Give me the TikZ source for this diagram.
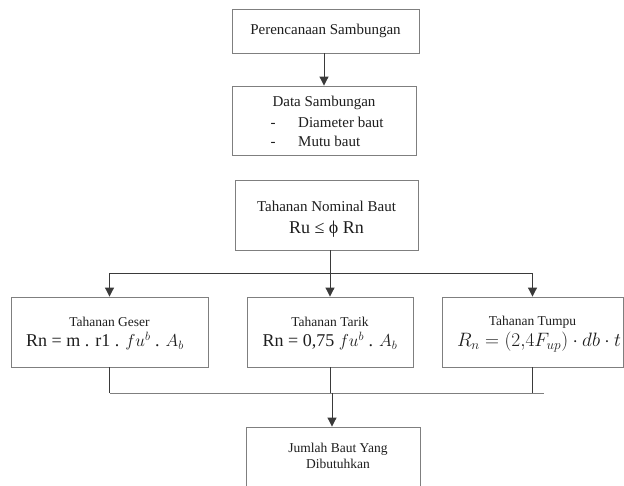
\documentclass[tikz,border=0pt]{standalone}
\usepackage{fontspec}
\usepackage{graphicx}
\setmainfont{Liberation Serif}
\usetikzlibrary{arrows.meta}
\definecolor{boxgray}{HTML}{7F7F7F}
\definecolor{linegray}{HTML}{3A3A3A}
\definecolor{txtc}{HTML}{1E1E1E}
\begin{document}
\begin{tikzpicture}[x=1pt,y=-1pt,
  box/.style={draw=boxgray, line width=0.9pt, fill=white, rectangle, inner sep=0pt},
  conn/.style={draw=linegray, line width=1pt},
  arr/.style={conn, -{Triangle[width=9pt,length=9pt]}},
  txt/.style={inner sep=0pt, text=txtc, font=\fontsize{15}{18}\selectfont},
  stxt/.style={inner sep=0pt, text=txtc, font=\fontsize{13.5}{16}\selectfont},
  ftxt/.style={inner sep=0pt, text=txtc, font=\fontsize{18}{21}\selectfont}]
\useasboundingbox (0,0) rectangle (624,485);
\clip (0,0) rectangle (624,485);
% boxes
\node[box, minimum width=187pt, minimum height=44pt] (b1) at (325.5,31) {};
\node[box, minimum width=184pt, minimum height=69pt] (b2) at (324,120.5) {};
\node[box, minimum width=183pt, minimum height=70pt] (b3) at (326.5,215) {};
\node[box, minimum width=197pt, minimum height=70pt] (gl) at (109.5,332) {};
\node[box, minimum width=166pt, minimum height=70pt] (tm) at (330,332) {};
\node[box, minimum width=181pt, minimum height=70pt] (tr) at (532.5,332) {};
\node[box, minimum width=174pt, minimum height=90pt] (b5) at (333,472) {};
% texts
\node[txt] (t1) at (b1.center) {Perencanaan Sambungan};
\node[txt] (t2) at (324,103) {Data Sambungan};
\node[txt, anchor=base west] (t2b) at (270.5,127) {\makebox[27.5pt][l]{-}Diameter baut};
\node[txt, anchor=base west] (t2d) at (270.5,146) {\makebox[27.5pt][l]{-}Mutu baut};
\node[txt] (t3) at (326.5,206) {Tahanan Nominal Baut};
\node[ftxt] (t3f) at (326.5,229) {Ru ≤ ϕ Rn};
\node[stxt] (tg) at (109.5,322) {Tahanan Geser};
\node[ftxt] (tgf) at (105,341) {Rn = m . r1 . $fu^b$ . $A_b$};
\node[stxt] (tt) at (330,322) {Tahanan Tarik};
\node[ftxt] (ttf) at (330,341) {Rn = 0,75 $fu^b$ . $A_b$};
\node[stxt] (tp) at (532.5,322) {Tahanan Tumpu};
\node[ftxt] (tpf) at (539,342) {\resizebox{164pt}{!}{$R_n=(2{,}4F_{up})\cdot db\cdot t$}};
\node[stxt, align=center] (t5) at (338,455.5) {Jumlah Baut Yang\\Dibutuhkan};
% connectors
\draw[arr] (324,53) -- (b2.north);
\draw[arr] (b3.south -| tm.north) -- (tm.north);
\coordinate (split) at (330,273);
\draw[conn] (gl.north |- split) -- (tr.north |- split);
\draw[arr] (gl.north |- split) -- (gl.north);
\draw[arr] (tr.north |- split) -- (tr.north);
\coordinate (join) at (332,393);
\coordinate (joinend) at (544,393);
\draw[conn] (gl.south) -- (gl.south |- join);
\draw[conn] (tm.south) -- (tm.south |- join);
\draw[conn] (tr.south) -- (tr.south |- join);
\draw[conn, draw=boxgray] (gl.south |- join) -- (joinend);
\draw[arr] (join) -- (join |- b5.north);
\end{tikzpicture}
\end{document}
